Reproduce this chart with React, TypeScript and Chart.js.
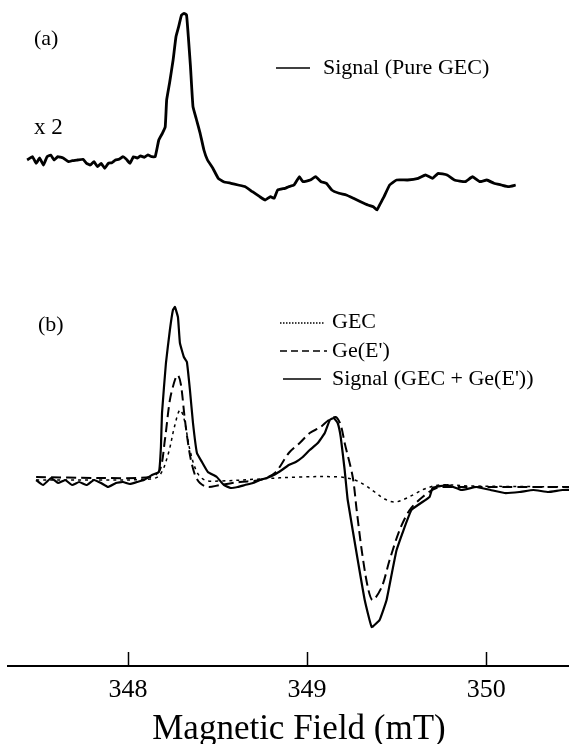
import React, { useEffect, useRef } from "react";
import { Chart, registerables } from "chart.js";

Chart.register(...registerables);

// Axis
const TICK_VALUES = [348, 349, 350];
const X_MIN = 347.33;
const X_MAX = 350.58;
const Y_MIN = -186;
const Y_MAX = 480;
const TOP_OFFSET = 322; // vertical offset of panel (a)

// Panel (a): Signal (Pure GEC), x2
const TOP_FIELD = [
  347.437, 347.467, 347.487, 347.507, 347.528, 347.548, 347.568, 347.588, 347.608, 347.638,
  347.669, 347.689, 347.719, 347.749, 347.769, 347.789, 347.81, 347.83, 347.85, 347.87,
  347.89, 347.91, 347.93, 347.95, 347.971, 347.991, 348.011, 348.031, 348.051, 348.071,
  348.091, 348.111, 348.132, 348.152, 348.172, 348.192, 348.208, 348.216, 348.232, 348.252,
  348.268, 348.283, 348.299, 348.313, 348.327, 348.337, 348.349, 348.363, 348.383, 348.403,
  348.424, 348.444, 348.474, 348.504, 348.534, 348.575, 348.615, 348.655, 348.695, 348.736,
  348.766, 348.796, 348.816, 348.836, 348.877, 348.897, 348.927, 348.957, 348.977, 349.018,
  349.048, 349.078, 349.108, 349.138, 349.179, 349.219, 349.259, 349.299, 349.34, 349.37,
  349.39, 349.41, 349.43, 349.461, 349.5, 349.561, 349.621, 349.661, 349.701, 349.732,
  349.782, 349.823, 349.883, 349.924, 349.964, 350.004, 350.044, 350.085, 350.125, 350.165,
];
const TOP_SIGNAL = [
  -2, 1.3, -5.3, 0, -7, 1.3, 3, -2, 1.3, 0,
  -3.7, -2.7, -2, -1.3, -5.3, -7, -3.7, -8.7, -5.3, -10.3,
  -5.3, -4.7, -2, -1.3, 1.3, -1.3, -5.3, 1.3, 0, 2,
  0.7, 3, 1.3, 1.3, 18, 24.7, 31.3, 58, 74.7, 98,
  121.3, 131.3, 143, 144.7, 143, 121.3, 91.3, 51.3, 38, 24.7,
  8, -2, -10.3, -20.3, -23.7, -25.3, -27, -28.7, -33.7, -38.7,
  -42, -38.7, -40.3, -32, -30.3, -28.7, -27, -18.7, -23.7, -22,
  -18.7, -23.7, -25.3, -32, -35.3, -37, -40.3, -43.7, -47, -48.7,
  -52, -45.3, -38.7, -27, -22, -22, -20.3, -17, -20.3, -15.3,
  -17, -22, -23.7, -18.7, -23.7, -22, -25.3, -27, -28.7, -27,
];

// Panel (b): Signal (GEC + Ge(E'))
const SIG_FIELD = [
  347.487, 347.526, 347.571, 347.61, 347.649, 347.688, 347.727, 347.771, 347.81, 347.849,
  347.888, 347.933, 347.972, 348.011, 348.05, 348.089, 348.134, 348.173, 348.184, 348.19,
  348.212, 348.234, 348.251, 348.262, 348.279, 348.29, 348.312, 348.329, 348.346, 348.363,
  348.385, 348.413, 348.446, 348.496, 348.535, 348.574, 348.613, 348.653, 348.697, 348.736,
  348.775, 348.814, 348.859, 348.898, 348.937, 348.976, 349.015, 349.06, 349.099, 349.127,
  349.149, 349.171, 349.188, 349.21, 349.227, 349.283, 349.322, 349.361, 349.405, 349.444,
  349.5, 349.583, 349.684, 349.701, 349.785, 349.863, 349.946, 350.025, 350.103, 350.186,
  350.264, 350.348, 350.426, 350.521,
];
const SIG_VALUES = [
  0, -5, 2, -3, 0, -5, -2, -5, 0, -3,
  -7, -3, -2, -4, -2, 0, 5, 8, 33, 67,
  117, 150, 170, 173, 163, 137, 123, 118, 90, 57,
  27, 18, 8, 3, -5, -8, -7, -5, -3, 0,
  2, 5, 10, 15, 18, 23, 30, 37, 47, 60,
  62, 57, 43, 10, -20, -80, -120, -147, -140, -120,
  -70, -30, -17, -8, -5, -10, -7, -10, -13, -12,
  -10, -12, -10, -10,
];

// Panel (b): Ge(E')
const GE_FIELD = [
  347.487, 347.844, 348.123, 348.178, 348.206, 348.234, 348.262, 348.279, 348.296, 348.318,
  348.346, 348.374, 348.402, 348.446, 348.513, 348.625, 348.736, 348.82, 348.898, 348.959,
  349.015, 349.076, 349.121, 349.16, 349.188, 349.21, 349.255, 349.277, 349.305, 349.339,
  349.366, 349.417, 349.461, 349.517, 349.573, 349.645, 349.723, 349.852, 350.075, 350.521,
];
const GE_VALUES = [
  3, 2, 3, 10, 40, 80, 100, 105, 95, 60,
  25, 5, -3, -7, -5, -2, 0, 7, 27, 37,
  47, 53, 60, 63, 55, 37, 3, -30, -70, -107,
  -120, -107, -80, -50, -30, -17, -8, -7, -7, -7,
];

// Panel (b): GEC
const GEC_FIELD = [
  347.487, 347.844, 348.123, 348.178, 348.223, 348.262, 348.29, 348.312, 348.346, 348.385,
  348.429, 348.513, 348.736, 348.959, 349.182, 349.266, 349.322, 349.378, 349.433, 349.489,
  349.545, 349.601, 349.656, 349.74, 349.907, 350.521,
];
const GEC_VALUES = [
  0, 0, 1, 5, 25, 55, 70, 62, 30, 8,
  0, -1, 1, 3, 3, 0, -5, -12, -19, -22,
  -19, -14, -9, -5, -6, -7,
];

const FONT = '"Liberation Serif", "Times New Roman", serif';

const pts = (xs: number[], ys: number[], off = 0) =>
  xs.map((x, i) => ({ x, y: ys[i] + off }));

const decorPlugin = {
  id: "decor",
  afterDraw(chart: any) {
    const ctx = chart.ctx as CanvasRenderingContext2D;
    const xs = chart.scales.x;
    const bottom = chart.chartArea.bottom;
    ctx.save();
    ctx.strokeStyle = "#000";
    ctx.fillStyle = "#000";
    // inward ticks
    ctx.lineWidth = 1.5;
    TICK_VALUES.forEach((v) => {
      const px = Math.round(xs.getPixelForValue(v)) + 0.5;
      ctx.beginPath();
      ctx.moveTo(px, bottom);
      ctx.lineTo(px, bottom - 14);
      ctx.stroke();
    });
    // panel labels
    ctx.textBaseline = "middle";
    ctx.textAlign = "left";
    ctx.font = `22px ${FONT}`;
    ctx.fillText("(a)", 34, 39);
    ctx.fillText("(b)", 38, 325);
    ctx.font = `23px ${FONT}`;
    ctx.fillText("x 2", 34, 128);

    // legends
    const legendLine = (x1: number, x2: number, y: number, dash: number[], w: number) => {
      ctx.save();
      ctx.lineWidth = w;
      ctx.setLineDash(dash);
      ctx.beginPath();
      ctx.moveTo(x1, y);
      ctx.lineTo(x2, y);
      ctx.stroke();
      ctx.restore();
    };
    ctx.font = `22px ${FONT}`;
    legendLine(276, 310, 68, [], 1.5);
    ctx.fillText("Signal (Pure GEC)", 323, 68);

    legendLine(280, 325, 323, [1.5, 1.5], 1.5);
    ctx.fillText("GEC", 332, 322);
    legendLine(280, 327, 351, [7, 4], 1.5);
    ctx.fillText("Ge(E')", 332, 351);
    legendLine(283, 321, 379, [], 1.5);
    ctx.fillText("Signal (GEC + Ge(E'))", 332, 379);
    ctx.restore();
  },
};

export default function App() {
  const ref = useRef<HTMLCanvasElement | null>(null);

  useEffect(() => {
    if (!ref.current) return;
    const chart = new Chart(ref.current, {
      type: "line",
      data: {
        datasets: [
          {
            label: "Signal (Pure GEC)",
            data: pts(TOP_FIELD, TOP_SIGNAL, TOP_OFFSET),
            borderColor: "#000",
            borderWidth: 2.8,
            pointRadius: 0,
            tension: 0.1,
          },
          {
            label: "GEC",
            data: pts(GEC_FIELD, GEC_VALUES),
            borderColor: "#000",
            borderWidth: 1.5,
            borderDash: [3, 4],
            pointRadius: 0,
            tension: 0.35,
          },
          {
            label: "Ge(E')",
            data: pts(GE_FIELD, GE_VALUES),
            borderColor: "#000",
            borderWidth: 2,
            borderDash: [10, 5],
            pointRadius: 0,
            tension: 0.3,
          },
          {
            label: "Signal (GEC + Ge(E'))",
            data: pts(SIG_FIELD, SIG_VALUES),
            borderColor: "#000",
            borderWidth: 2.2,
            pointRadius: 0,
            tension: 0.1,
          },
        ],
      },
      options: {
        animation: false,
        responsive: false,
        devicePixelRatio: 1,
        layout: { padding: { left: 8, right: 0, top: 0, bottom: 0 } },
        plugins: {
          legend: { display: false },
          tooltip: { enabled: false },
          title: { display: false },
        },
        scales: {
          x: {
            type: "linear",
            position: "bottom",
            min: X_MIN,
            max: X_MAX,
            grid: { display: false, drawTicks: false },
            border: { display: true, color: "#000", width: 2 },
            afterBuildTicks: (axis: any) => {
              axis.ticks = TICK_VALUES.map((v) => ({ value: v }));
            },
            ticks: {
              color: "#000",
              padding: 11,
              maxRotation: 0,
              autoSkip: false,
              font: { family: FONT, size: 26, lineHeight: 1 },
              callback: (v: any) => String(v),
            },
            title: {
              display: true,
              text: "Magnetic Field (mT)",
              color: "#000",
              font: { family: FONT, size: 35, lineHeight: 1 },
              padding: { top: -2, bottom: -3 },
            },
          },
          y: {
            display: false,
            min: Y_MIN,
            max: Y_MAX,
          },
        },
      },
      plugins: [decorPlugin],
    });
    return () => chart.destroy();
  }, []);

  return (
    <div
      style={{
        position: "absolute",
        left: 0,
        top: 0,
        width: 569,
        height: 744,
        overflow: "hidden",
        background: "#fff",
      }}
    >
      <canvas ref={ref} width={590} height={744} style={{ display: "block" }} />
    </div>
  );
}
